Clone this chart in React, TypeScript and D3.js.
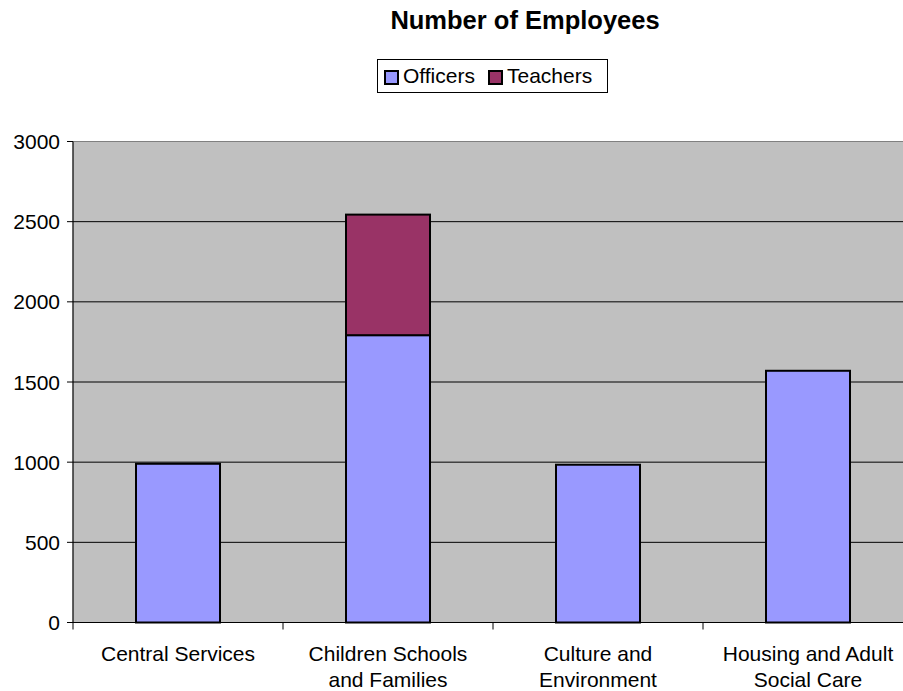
import React from "react";
import * as d3 from "d3";

const categories = [
  ["Central Services"],
  ["Children Schools", "and Families"],
  ["Culture and", "Environment"],
  ["Housing and Adult", "Social Care"],
];
const officers = [990, 1792, 984, 1570];
const teachers = [0, 752, 0, 0];
const seriesNames = ["Officers", "Teachers"];
const seriesColors = ["#9999FF", "#993366"];
const yTicks = [0, 500, 1000, 1500, 2000, 2500, 3000];

const W = 903;
const H = 691;
const left = 73;
const bandW = 210;
const top = 141.5;
const bottom = 622.5;

export default function App() {
  const x = d3
    .scaleBand<number>()
    .domain(categories.map((_, i) => i))
    .range([left, left + bandW * categories.length])
    .paddingInner(0.6)
    .paddingOuter(0.3);
  const y = d3.scaleLinear().domain([0, 3000]).range([bottom, top]);
  const stackData = categories.map((_, i) => ({ Officers: officers[i], Teachers: teachers[i], i }));
  const stack = d3.stack<any>().keys(seriesNames)(stackData);
  const font = "'Liberation Sans', Arial, sans-serif";
  const plotRight = left + bandW * categories.length;
  const legendX = [384, 488];

  return (
    <div style={{ position: "fixed", left: 0, top: 0 }}>
      <svg width={W} height={H} style={{ display: "block", background: "#fff" }} fontFamily={font}>
        <text x={525} y={29} textAnchor="middle" fontSize={25.5} fontWeight="bold">
          Number of Employees
        </text>
        {/* legend */}
        <rect x={377.5} y={59.5} width={230} height={33} fill="#fff" stroke="#000" />
        {seriesNames.map((s, k) => {
          const lx = legendX[k];
          return (
            <g key={s}>
              <rect x={lx + 1} y={71} width={13} height={13} fill={seriesColors[k]} stroke="#000" strokeWidth={2} />
              <text x={lx + 19} y={83} fontSize={21}>
                {s}
              </text>
            </g>
          );
        })}
        {/* plot */}
        <rect x={left} y={top} width={plotRight - left} height={bottom - top} fill="#C0C0C0" stroke="#808080" />
        {yTicks.slice(1, -1).map((t) => (
          <line key={t} x1={left} x2={plotRight} y1={y(t)} y2={y(t)} stroke="#000" strokeWidth={1} />
        ))}
        {stack.map((layer, k) =>
          layer.map((d, i) => {
            const h = y(d[0]) - y(d[1]);
            if (h <= 0) return null;
            return (
              <rect
                key={`${k}-${i}`}
                x={x(i)!}
                y={y(d[1])}
                width={x.bandwidth()}
                height={h}
                fill={seriesColors[k]}
                stroke="#000"
                strokeWidth={2}
              />
            );
          })
        )}
        {/* axes */}
        <line x1={left} x2={left} y1={top} y2={bottom} stroke="#000" />
        <line x1={left} x2={plotRight} y1={bottom} y2={bottom} stroke="#000" />
        {yTicks.map((t) => (
          <g key={t}>
            <line x1={left - 6} x2={left} y1={y(t)} y2={y(t)} stroke="#000" />
            <text x={60} y={y(t) + 7.5} textAnchor="end" fontSize={21}>
              {t}
            </text>
          </g>
        ))}
        {categories.map((_, i) => (
          <line key={i} x1={left + bandW * i} x2={left + bandW * i} y1={bottom} y2={bottom + 7} stroke="#000" />
        ))}
        {categories.map((lines, i) =>
          lines.map((l, j) => (
            <text key={`${i}-${j}`} x={x(i)! + x.bandwidth() / 2} y={661 + j * 26} textAnchor="middle" fontSize={21}>
              {l}
            </text>
          ))
        )}
      </svg>
    </div>
  );
}
